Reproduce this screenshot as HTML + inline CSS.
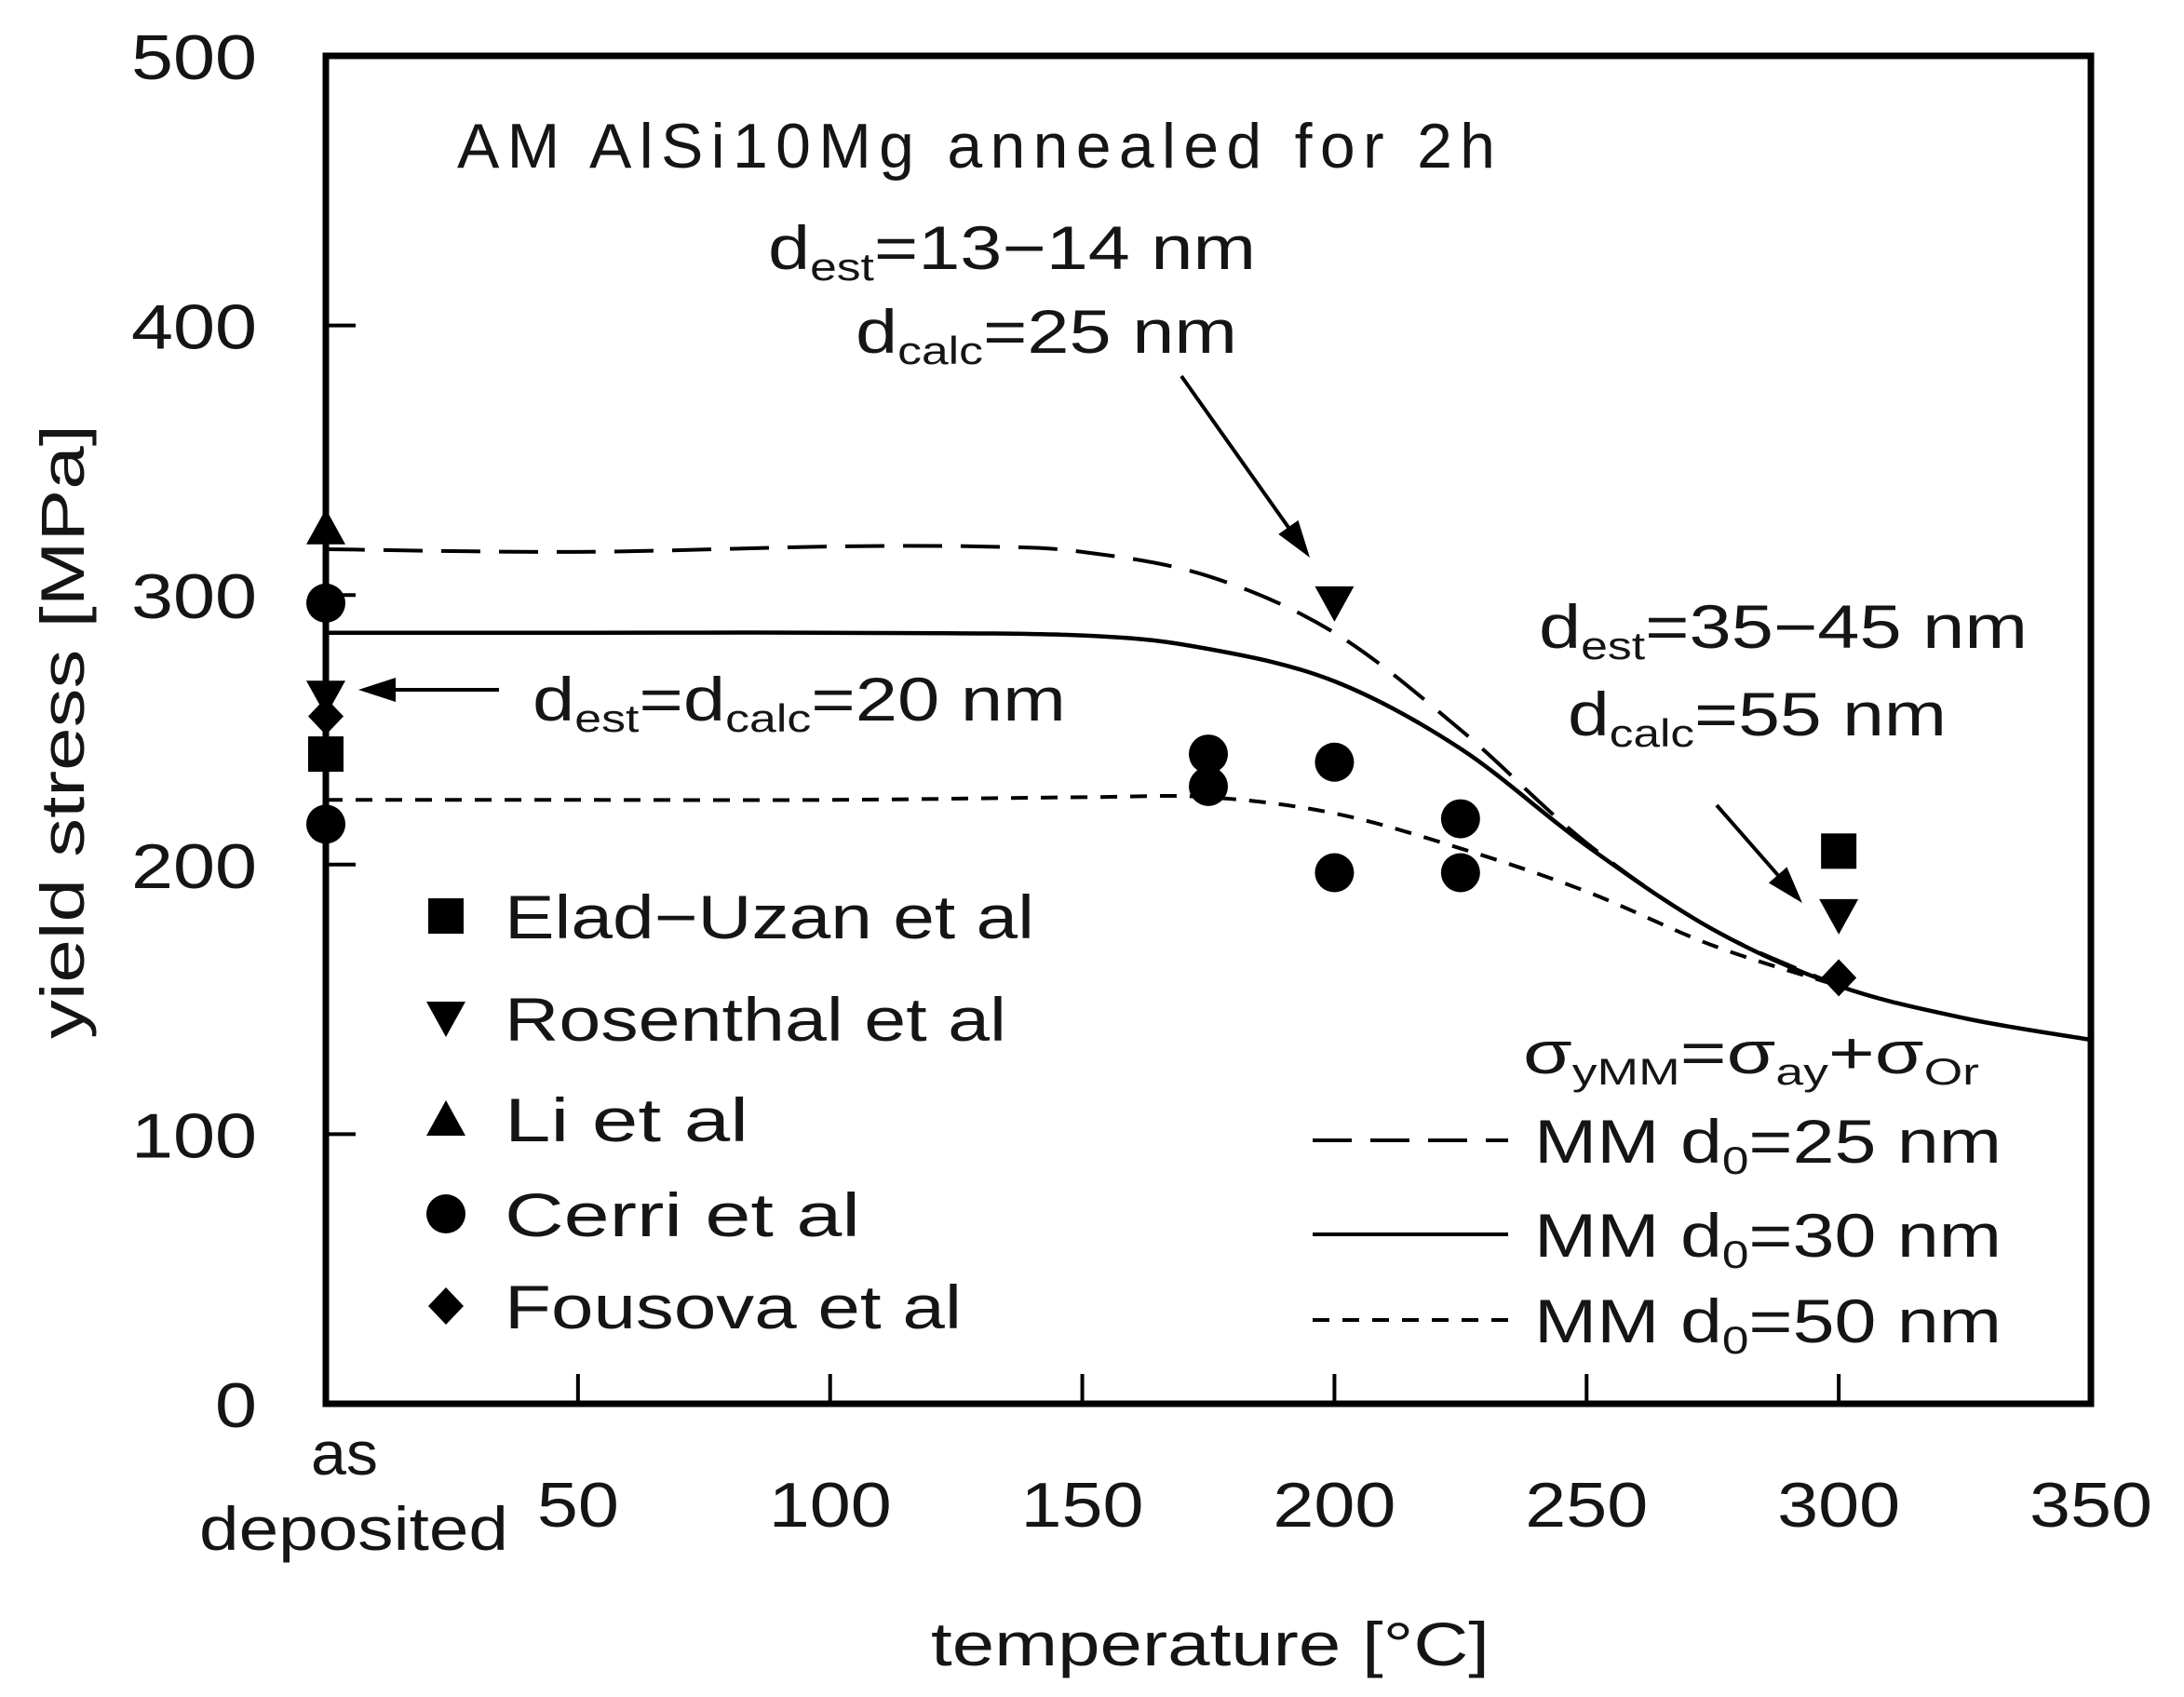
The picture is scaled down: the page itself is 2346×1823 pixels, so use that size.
<!DOCTYPE html>
<html><head><meta charset="utf-8"><style>
html,body{margin:0;padding:0;background:#fff}
svg{display:block}
text{font-family:"Liberation Sans","DejaVu Sans",sans-serif;fill:#151515}
</style></head><body>
<svg id="chart" width="2346" height="1823" viewBox="0 0 2346 1823" xmlns="http://www.w3.org/2000/svg">
<rect x="0" y="0" width="2346" height="1823" fill="#fff"/>
<g id="axes"></g>
<g id="curves"></g>
<g id="marks"></g>
<g id="annot">
<text x="491" y="180" font-size="68" textLength="1115" lengthAdjust="spacing">AM  AlSi10Mg annealed for 2h</text>
<text x="825" y="289" font-size="66" textLength="524" lengthAdjust="spacingAndGlyphs">d<tspan font-size="42" dy="12">est</tspan><tspan dy="-12">=13−14  nm</tspan></text>
<text x="919" y="379" font-size="66" textLength="410" lengthAdjust="spacingAndGlyphs">d<tspan font-size="42" dy="12">calc</tspan><tspan dy="-12">=25  nm</tspan></text>
<text x="572" y="774" font-size="66" textLength="573" lengthAdjust="spacingAndGlyphs">d<tspan font-size="42" dy="12">est</tspan><tspan dy="-12">=d</tspan><tspan font-size="42" dy="12">calc</tspan><tspan dy="-12">=20  nm</tspan></text>
<text x="1653" y="696" font-size="66" textLength="525" lengthAdjust="spacingAndGlyphs">d<tspan font-size="42" dy="12">est</tspan><tspan dy="-12">=35−45  nm</tspan></text>
<text x="1684" y="790" font-size="66" textLength="407" lengthAdjust="spacingAndGlyphs">d<tspan font-size="42" dy="12">calc</tspan><tspan dy="-12">=55  nm</tspan></text>
<text x="1636" y="1153" font-size="64" textLength="490" lengthAdjust="spacingAndGlyphs">σ<tspan font-size="40" dy="12">yMM</tspan><tspan dy="-12">=σ</tspan><tspan font-size="40" dy="12">ay</tspan><tspan dy="-12">+σ</tspan><tspan font-size="40" dy="12">Or</tspan></text>
</g>
</svg>
<script>
// ---- data ----
const xTicks = [50,100,150,200,250,300,350];
const yTicks = [0,100,200,300,400,500];
const curveT25 = [0,50,100,130,150,175,200,225,250,275,300];
const curveV25 = [317,316,318,318,316,307,286,250,208,176,155];
const curveT30 = [0,50,100,150,175,200,225,250,275,300,325,350];
const curveV30 = [286,286,286,285,280,268,243,207,176,155,143,135];
const curveT50 = [0,50,100,150,175,200,225,250,275,300];
const curveV50 = [224,224,224,225,225,219,206,190,170,155];
const eladT = [0,300];       const eladV = [241,205];
const rosenT = [0,200,300];  const rosenV = [262,297,181];
const liT = [0];             const liV = [325];
const cerriT = [0,0,175,175,200,200,225,225]; const cerriV = [297,215,241,229,238,197,217,197];
const fousT = [0,300];       const fousV = [255,158];

const NS='http://www.w3.org/2000/svg';
const X0=350, X1=2246, Y0=1508, Y1=60;
const X=t=>X0+t*(X1-X0)/350;
const Y=v=>Y0-v*(Y0-Y1)/500;
function mk(tag,attrs,parent){const e=document.createElementNS(NS,tag);for(const k in attrs)e.setAttribute(k,attrs[k]);parent.appendChild(e);return e;}
const axes=document.getElementById('axes'),curves=document.getElementById('curves'),marks=document.getElementById('marks'),annot=document.getElementById('annot');

let fr=mk('rect',{x:X0,y:Y1,width:X1-X0,height:Y0-Y1,fill:'none',stroke:'#000','stroke-width':7},axes);


xTicks.forEach(t=>{
  let l=mk('line',{x1:X(t),x2:X(t),y1:Y0,y2:Y0-32,stroke:'#000','stroke-width':4},axes);
  
  
  const s=String(t);
  let tx=mk('text',{x:X(t),y:1640,'font-size':68,'text-anchor':'middle',textLength:s.length*44,lengthAdjust:'spacingAndGlyphs'},axes);
  tx.textContent=s;
  
  
});
yTicks.forEach(v=>{
  let l=mk('line',{x1:X0,x2:X0+32,y1:Y(v),y2:Y(v),stroke:'#000','stroke-width':4},axes);
  
  
  const s=String(v);
  let tx=mk('text',{x:276,y:Y(v)+25,'font-size':68,'text-anchor':'end',textLength:s.length*45,lengthAdjust:'spacingAndGlyphs'},axes);
  tx.textContent=s;
  
  
});
let a1=mk('text',{x:370,y:1584,'font-size':66,'text-anchor':'middle',textLength:72,lengthAdjust:'spacingAndGlyphs'},axes);a1.textContent='as';


let a2=mk('text',{x:380,y:1665,'font-size':66,'text-anchor':'middle',textLength:332,lengthAdjust:'spacingAndGlyphs'},axes);a2.textContent='deposited';


let xt=mk('text',{x:1300,y:1789,'font-size':66,'text-anchor':'middle',textLength:600,lengthAdjust:'spacingAndGlyphs'},axes);xt.textContent='temperature [°C]';


let yt=mk('text',{x:0,y:0,'font-size':66,'text-anchor':'middle',transform:'translate(90,786) rotate(-90)',textLength:660,lengthAdjust:'spacingAndGlyphs'},axes);yt.textContent='yield stress [MPa]';



function pathFrom(ts,vs){
  const p=ts.map((t,i)=>[X(t),Y(vs[i])]);
  let d='M'+p[0][0]+','+p[0][1];
  for(let i=0;i<p.length-1;i++){
    const p0=p[i-1]||p[i],p1=p[i],p2=p[i+1],p3=p[i+2]||p2;
    const c1=[p1[0]+(p2[0]-p0[0])/6,p1[1]+(p2[1]-p0[1])/6];
    const c2=[p2[0]-(p3[0]-p1[0])/6,p2[1]-(p3[1]-p1[1])/6];
    d+=` C${c1[0]},${c1[1]} ${c2[0]},${c2[1]} ${p2[0]},${p2[1]}`;
  }
  return d;
}
let c25=mk('path',{d:pathFrom(curveT25,curveV25),fill:'none',stroke:'#000','stroke-width':4,'stroke-dasharray':'42 20'},curves);


let c30=mk('path',{d:pathFrom(curveT30,curveV30),fill:'none',stroke:'#000','stroke-width':4.5},curves);


let c50=mk('path',{d:pathFrom(curveT50,curveV50),fill:'none',stroke:'#000','stroke-width':4,'stroke-dasharray':'18 14'},curves);



function marker(type,cx,cy,parent){
  let e;
  if(type==='square') e=mk('rect',{x:cx-19,y:cy-19,width:38,height:38,fill:'#000'},parent);
  else if(type==='down') e=mk('polygon',{points:`${cx-21},${cy-18} ${cx+21},${cy-18} ${cx},${cy+20}`,fill:'#000'},parent);
  else if(type==='up') e=mk('polygon',{points:`${cx-21},${cy+18} ${cx+21},${cy+18} ${cx},${cy-20}`,fill:'#000'},parent);
  else if(type==='circle') e=mk('ellipse',{cx:cx,cy:cy,rx:21,ry:21,fill:'#000'},parent);
  else e=mk('polygon',{points:`${cx},${cy-20} ${cx+19},${cy} ${cx},${cy+20} ${cx-19},${cy}`,fill:'#000'},parent);
  return e;
}
function series(type,ts,vs,name){
  ts.forEach((t,i)=>{
    const e=marker(type,X(t),Y(vs[i]),marks);
    
    
  });
}
series('square',eladT,eladV,'point-elad-uzan');
series('down',rosenT,rosenV,'point-rosenthal');
series('up',liT,liV,'point-li');
series('circle',cerriT,cerriV,'point-cerri');
series('diamond',fousT,fousV,'point-fousova');

const legNames=['Elad−Uzan et al','Rosenthal et al','Li et al','Cerri et al','Fousova et al'];
const legWidths=[569,539,262,382,491];
const legTypes=['square','down','up','circle','diamond'];
const legY=[984,1094,1202,1304,1403];
legNames.forEach((n,i)=>{
  const m=marker(legTypes[i],479,legY[i],annot);
  
  
  const t=mk('text',{x:542,y:legY[i]+24,'font-size':66,textLength:legWidths[i],lengthAdjust:'spacingAndGlyphs'},annot);
  t.textContent=n;
  
  
});
const lineDash=['42 20','none','18 14'];
const lineY=[1225,1326,1418];
const lineD=['25','30','50'];
lineY.forEach((y,i)=>{
  const l=mk('line',{x1:1410,x2:1620,y1:y,y2:y,stroke:'#000','stroke-width':4,'stroke-dasharray':lineDash[i]},annot);
  
  
  const t=mk('text',{x:1648,y:y+24,'font-size':66,textLength:502,lengthAdjust:'spacingAndGlyphs'},annot);
  t.innerHTML='MM d<tspan font-size="42" dy="12">0</tspan><tspan dy="-12">='+lineD[i]+'  nm</tspan>';
  
  
});
function arrow(x1,y1,x2,y2,name){
  const g=mk('g',{},annot);
  
  
  const ang=Math.atan2(y2-y1,x2-x1),L=40,W=13;
  const bx=x2-L*Math.cos(ang),by=y2-L*Math.sin(ang);
  mk('line',{x1:x1,y1:y1,x2:bx,y2:by,stroke:'#000','stroke-width':4},g);
  mk('polygon',{points:`${x2},${y2} ${bx+W*Math.sin(ang)},${by-W*Math.cos(ang)} ${bx-W*Math.sin(ang)},${by+W*Math.cos(ang)}`,fill:'#000'},g);
}
arrow(1269,404,1407,599,'arrow-200c');
arrow(536,741,385,741,'arrow-as-deposited');
arrow(1844,865,1936,970,'arrow-300c');
</script>
</body></html>
